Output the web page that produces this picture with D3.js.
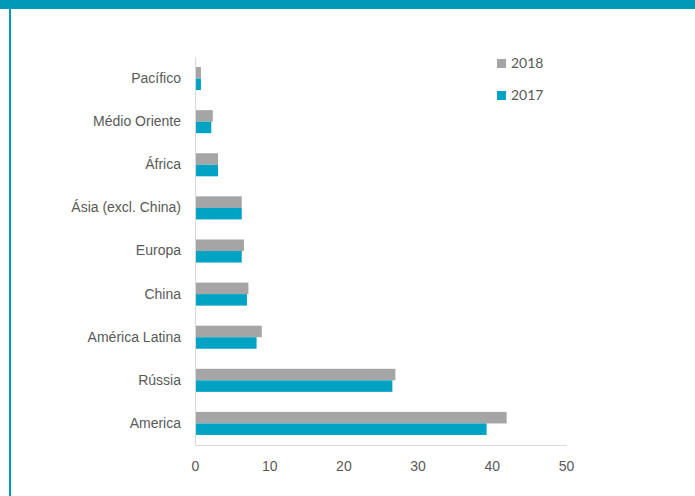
<!DOCTYPE html>
<html>
<head>
<meta charset="utf-8">
<script src="https://cdn.jsdelivr.net/npm/d3@7"></script>
<style>
  body { margin: 0; background: #fff; }
  svg { display: block; font-family: Lato, "Open Sans", sans-serif; }
  .tick text { fill: #595959; }
</style>
</head>
<body>
<script>
const regions = ["Pacífico", "Médio Oriente", "África", "Ásia (excl. China)", "Europa",
    "China", "América Latina", "Rússia", "America"];
const values2018 = [0.8, 2.4, 3.1, 6.3, 6.6, 7.2, 9.0, 27.0, 42.0];
const values2017 = [0.8, 2.2, 3.1, 6.3, 6.3, 7.0, 8.3, 26.6, 39.3];
const xTicks = [0, 10, 20, 30, 40, 50];
const seriesNames = ["2018", "2017"];

const drawChart = () => {
    let width = 695,
        height = 496,
        margin = {left: 195, right: 129, top: 57, bottom: 51},
        colors = {"2018": "#a5a5a5", "2017": "#00a3c4"};

    let svg = d3.select("body").append("svg")
        .attr("width", width)
        .attr("height", height);

    // frame: teal band on top, teal line on the left
    svg.append("rect").attr("x", 0).attr("y", 0).attr("width", width).attr("height", 9)
        .attr("fill", "#0099b8");
    svg.append("rect").attr("x", 9).attr("y", 9).attr("width", 2).attr("height", height - 9)
        .attr("fill", "#0099b8");

    let xScale = d3.scaleLinear()
        .domain([0, 50])
        .range([margin.left, width - margin.right]);
    let yScale = d3.scaleBand()
        .domain(regions)
        .range([margin.top, height - margin.bottom]);
    let inner = d3.scaleBand()
        .domain(seriesNames)
        .range([0, yScale.bandwidth()])
        .paddingInner(0)
        .paddingOuter(0.87);

    let series = [
        {name: "2018", values: values2018},
        {name: "2017", values: values2017}
    ];

    series.forEach(s => {
        svg.append("g")
            .selectAll("rect")
            .data(regions)
            .enter()
            .append("rect")
                .attr("x", xScale(0))
                .attr("y", d => yScale(d) + inner(s.name))
                .attr("width", (d, i) => xScale(s.values[i]) - xScale(0))
                .attr("height", inner.bandwidth())
                .attr("fill", colors[s.name]);
    });

    let xAxis = svg.append("g")
        .attr("transform", "translate(0," + (height - margin.bottom) + ")")
        .call(d3.axisBottom(xScale).tickValues(xTicks).tickSize(0).tickPadding(16));
    xAxis.select(".domain").attr("stroke", "#d9d9d9");
    xAxis.selectAll("text").style("font-size", "14px").style("font-family", "inherit");

    let yAxis = svg.append("g")
        .attr("transform", "translate(" + margin.left + ",0)")
        .call(d3.axisLeft(yScale).tickSize(0).tickPadding(14));
    yAxis.select(".domain").attr("stroke", "#d9d9d9");
    yAxis.selectAll("text").style("font-size", "14px").style("font-family", "inherit");

    let legend = svg.append("g").attr("transform", "translate(497,58)");
    seriesNames.forEach((name, i) => {
        let row = legend.append("g").attr("transform", "translate(0," + (i * 32) + ")");
        row.append("rect").attr("width", 9).attr("height", 9).attr("y", 1)
            .attr("fill", colors[name]);
        row.append("text").attr("x", 14).attr("y", 10)
            .attr("fill", "#595959").style("font-size", "14px")
            .text(name);
    });
};

drawChart();
</script>
</body>
</html>
